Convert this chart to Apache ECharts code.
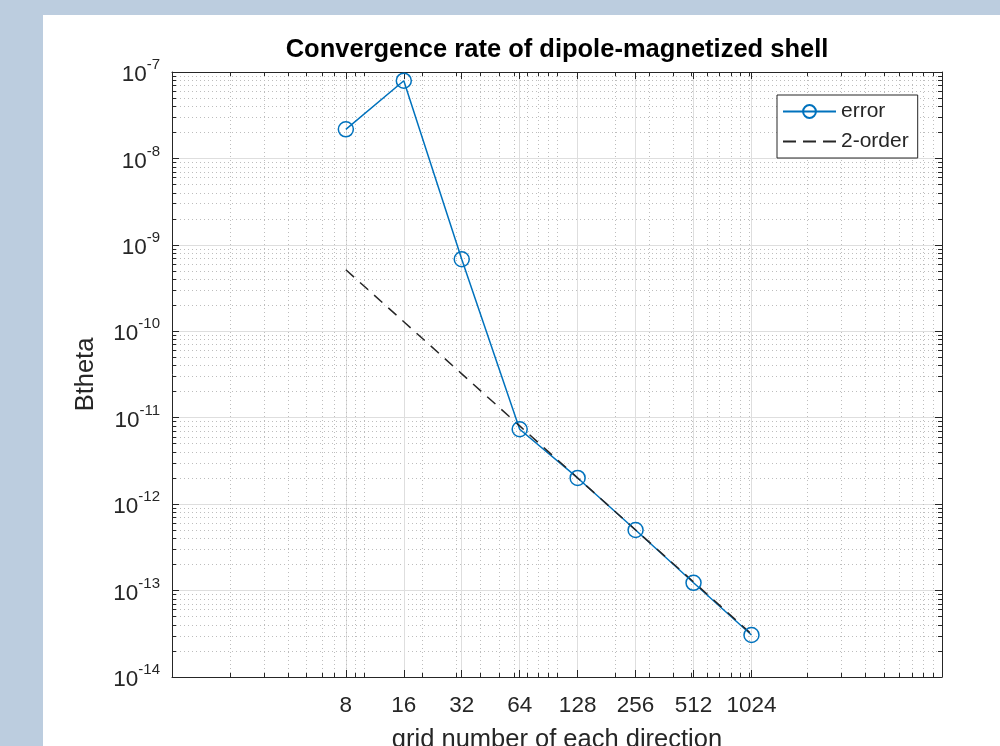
<!DOCTYPE html>
<html>
<head>
<meta charset="utf-8">
<title>Convergence rate of dipole-magnetized shell</title>
<script src="https://cdn.jsdelivr.net/npm/echarts@6/dist/echarts.min.js"></script>
<style>
  html, body { margin: 0; padding: 0; background: #bccddf; overflow: hidden; }
  #paper { position: absolute; left: 43px; top: 15px; width: 957px; height: 731px; background: #fff; }
  #chart { position: absolute; left: 0; top: 0; width: 1000px; height: 746px; }
</style>
</head>
<body>
<div id="paper"></div>
<div id="chart"></div>
<script>
// grid number of each direction
const gridN = [8, 16, 32, 64, 128, 256, 512, 1024];
// Btheta error
const errorVals = [2.17e-8, 7.93e-8, 6.81e-10, 7.35e-12, 2.01e-12, 5.02e-13, 1.23e-13, 3.06e-14];
// 2nd order reference line
const order2Vals = [5.15e-10, 1.29e-10, 3.22e-11, 8.04e-12, 2.01e-12, 5.03e-13, 1.26e-13, 3.14e-14];

// ticks
const xTicks = [8, 16, 32, 64, 128, 256, 512, 1024];
const yTicks = [1e-14, 1e-13, 1e-12, 1e-11, 1e-10, 1e-9, 1e-8, 1e-7];
const xDecades = [1, 10, 100, 1000];
const yDecades = [1e-14, 1e-13, 1e-12, 1e-11, 1e-10, 1e-9, 1e-8];
const minorSteps = [2, 3, 4, 5, 6, 7, 8, 9];

// minor grid positions (1..9 x decade, like matlab's log minor grid)
const xMinor = [];
xDecades.forEach(function (d) {
  [1].concat(minorSteps).forEach(function (m) { if (d * m > 1) xMinor.push(d * m); });
});
const yMinor = [];
yDecades.forEach(function (d) {
  minorSteps.forEach(function (m) { yMinor.push(d * m); });
});

const axisColor = '#262626';
const font = '"Liberation Sans", Arial, Helvetica, sans-serif';

function xAxisOf(pos, ticks, len, extra) {
  return Object.assign({
    type: 'log', logBase: 10, min: 1, max: 10000, position: pos,
    axisLine: { show: false },
    axisTick: { show: true, inside: true, length: len, customValues: ticks, lineStyle: { color: axisColor, width: 1 } },
    axisLabel: { show: false },
    splitLine: { show: false }
  }, extra);
}
function yAxisOf(pos, ticks, len, extra) {
  return Object.assign({
    type: 'log', logBase: 10, min: 1e-14, max: 1e-7, position: pos,
    axisLine: { show: false },
    axisTick: { show: true, inside: true, length: len, customValues: ticks, lineStyle: { color: axisColor, width: 1 } },
    axisLabel: { show: false },
    splitLine: { show: false }
  }, extra);
}

const chart = echarts.init(document.getElementById('chart'));
chart.setOption({
  animation: false,
  textStyle: { fontFamily: font },
  title: {
    text: 'Convergence rate of dipole-magnetized shell',
    left: 557, top: 37, textAlign: 'center', padding: 0,
    textStyle: { fontSize: 25.5, fontWeight: 'bold', color: '#000', fontFamily: font }
  },
  grid: { left: 172, top: 72, width: 770, height: 605, containLabel: false, outerBoundsMode: 'none' },
  legend: {
    left: 777, top: 95,
    orient: 'vertical',
    padding: [6, 9, 6, 5],
    itemWidth: 53, itemHeight: 16, itemGap: 9,
    backgroundColor: '#fff',
    borderColor: axisColor, borderWidth: 1,
    textStyle: { fontSize: 21, color: axisColor, fontFamily: font },
    data: [
      { name: 'error' },
      { name: '2-order', itemStyle: { opacity: 0 }, lineStyle: { type: [13, 7] } }
    ]
  },
  xAxis: [
    xAxisOf('bottom', xTicks, 7, {
      name: 'grid number of each direction', nameLocation: 'middle', nameGap: 50,
      nameTextStyle: { fontSize: 25.5, color: axisColor, fontFamily: font },
      axisLine: { show: true, lineStyle: { color: axisColor, width: 1 } },
      axisLabel: { show: true, customValues: xTicks, margin: 17, fontSize: 22.5, color: axisColor, fontFamily: font,
        formatter: function (v) { return String(Math.round(v)); } },
      splitLine: { show: true, lineStyle: { color: '#dedede', width: 1 } }
    }),
    xAxisOf('bottom', xMinor, 4, {
      splitLine: { show: true, lineStyle: { color: '#bdbdbd', width: 1, type: [1, 3] } }
    }),
    xAxisOf('top', xTicks, 7, { axisLine: { show: true, lineStyle: { color: axisColor, width: 1 } } }),
    xAxisOf('top', xMinor, 4, {})
  ],
  yAxis: [
    yAxisOf('left', yTicks, 7, {
      name: 'Btheta', nameLocation: 'middle', nameRotate: 90, nameGap: 73,
      nameTextStyle: { fontSize: 25.5, color: axisColor, fontFamily: font },
      axisLine: { show: true, lineStyle: { color: axisColor, width: 1 } },
      axisLabel: {
        show: true, customValues: yTicks, margin: 12, color: axisColor, fontFamily: font,
        formatter: function (v) { return '{b|10}{s|' + Math.round(Math.log10(v)) + '}'; },
        rich: {
          b: { fontSize: 22.5, color: axisColor, fontFamily: font, verticalAlign: 'bottom' },
          s: { fontSize: 15, color: axisColor, fontFamily: font, verticalAlign: 'top', padding: [0, 0, 14, 0] }
        }
      },
      splitLine: { show: true, lineStyle: { color: '#dedede', width: 1 } }
    }),
    yAxisOf('left', yMinor, 4, {
      splitLine: { show: true, lineStyle: { color: '#bdbdbd', width: 1, type: [1, 3] } }
    }),
    yAxisOf('right', yTicks, 7, { axisLine: { show: true, lineStyle: { color: axisColor, width: 1 } } }),
    yAxisOf('right', yMinor, 4, {})
  ],
  series: [
    {
      name: 'error', type: 'line', xAxisIndex: 0, yAxisIndex: 0,
      data: gridN.map(function (n, i) { return [n, errorVals[i]]; }),
      symbol: 'circle', symbolSize: 15,
      lineStyle: { color: '#0072BD', width: 1.5 },
      itemStyle: { color: 'rgba(255,255,255,0)', borderColor: '#0072BD', borderWidth: 1.5 },
      emphasis: { disabled: true }
    },
    {
      name: '2-order', type: 'line', xAxisIndex: 0, yAxisIndex: 0,
      data: gridN.map(function (n, i) { return [n, order2Vals[i]]; }),
      symbol: 'none',
      lineStyle: { color: axisColor, width: 1.5, type: [11, 8] },
      itemStyle: { color: axisColor },
      emphasis: { disabled: true }
    }
  ]
});
</script>
</body>
</html>
